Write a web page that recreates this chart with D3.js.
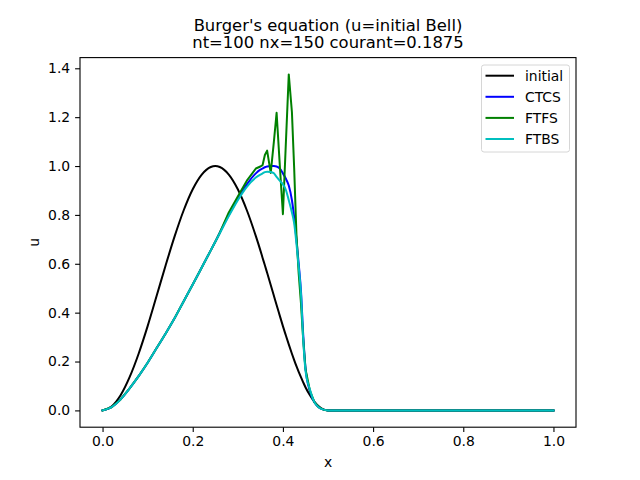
<!DOCTYPE html>
<html>
<head>
<meta charset="utf-8">
<script src="https://cdn.jsdelivr.net/npm/d3@7"></script>
<style>
  html, body { margin: 0; padding: 0; background: #fff; }
  svg { display: block; font-family: "DejaVu Sans", sans-serif; }
  .axis path, .axis line { stroke: #000; stroke-width: 1.1; }
  .axis text { font-size: 13.9px; fill: #000; font-family: "DejaVu Sans", sans-serif; }
</style>
</head>
<body>
<svg id="chart" width="640" height="480"></svg>
<script>
// grid of x positions
const xs = [0, 0.02, 0.04, 0.06, 0.08, 0.10, 0.12, 0.14, 0.16, 0.18,
  0.20, 0.22, 0.24, 0.25, 0.26, 0.28, 0.30, 0.32, 0.34, 0.35,
  0.355, 0.36, 0.365, 0.373, 0.38, 0.386, 0.393, 0.40, 0.406, 0.413,
  0.42, 0.425, 0.43, 0.435, 0.44, 0.445, 0.45, 0.46, 0.47, 0.48,
  0.49, 0.50, 0.60, 0.70, 0.80, 0.90, 1.00];

const initial = [0, 0.016, 0.062, 0.136, 0.232, 0.345, 0.469, 0.594, 0.713, 0.819,
  0.905, 0.965, 0.996, 1.0, 0.996, 0.965, 0.905, 0.819, 0.713, 0.655,
  0.624, 0.594, 0.563, 0.513, 0.469, 0.431, 0.388, 0.345, 0.310, 0.270,
  0.232, 0.206, 0.181, 0.158, 0.136, 0.115, 0.095, 0.062, 0.035, 0.016,
  0.004, 0, 0, 0, 0, 0, 0];

const ctcs = [0, 0.013, 0.045, 0.09, 0.14, 0.195, 0.255, 0.315, 0.378, 0.447,
  0.515, 0.585, 0.655, 0.69, 0.727, 0.80, 0.865, 0.925, 0.97, 0.985,
  0.99, 0.995, 0.998, 1.0, 1.0, 0.998, 0.99, 0.97, 0.95, 0.92,
  0.86, 0.79, 0.70, 0.60, 0.49, 0.31, 0.175, 0.078, 0.033, 0.012,
  0.003, 0, 0, 0, 0, 0, 0];

const ftfs = [0, 0.013, 0.045, 0.09, 0.14, 0.195, 0.255, 0.315, 0.378, 0.447,
  0.515, 0.585, 0.655, 0.69, 0.727, 0.81, 0.875, 0.94, 0.99, 0.998,
  1.004, 1.045, 1.063, 0.972, 1.10, 1.218, 1.006, 0.803, 1.07, 1.375,
  1.22, 0.99, 0.72, 0.56, 0.44, 0.29, 0.17, 0.08, 0.033, 0.012,
  0.003, 0, 0, 0, 0, 0, 0];

const ftbs = [0, 0.013, 0.045, 0.09, 0.14, 0.195, 0.255, 0.315, 0.378, 0.447,
  0.515, 0.585, 0.655, 0.69, 0.725, 0.795, 0.86, 0.915, 0.953, 0.965,
  0.97, 0.975, 0.977, 0.976, 0.97, 0.956, 0.94, 0.925, 0.905, 0.86,
  0.81, 0.765, 0.683, 0.587, 0.48, 0.29, 0.165, 0.085, 0.033, 0.012,
  0.003, 0, 0, 0, 0, 0, 0];

const seriesNames = ["initial", "CTCS", "FTFS", "FTBS"];
const seriesColors = ["#000000", "#0000ff", "#008000", "#00bfbf"];
const seriesValues = [initial, ctcs, ftfs, ftbs];

const xTicks = [0.0, 0.2, 0.4, 0.6, 0.8, 1.0];
const yTicks = [0.0, 0.2, 0.4, 0.6, 0.8, 1.0, 1.2, 1.4];

const titleLines = ["Burger's equation (u=initial Bell)", "nt=100 nx=150 courant=0.1875"];

const svg = d3.select("#chart");
const plotLeft = 80, plotRight = 576, plotTop = 57.6, plotBottom = 427.2;

const x = d3.scaleLinear().domain([-0.05, 1.05]).range([plotLeft, plotRight]);
const y = d3.scaleLinear().domain([-0.06875, 1.44375]).range([plotBottom, plotTop]);

// lines (FTFS drawn straight so its spikes stay sharp)
seriesValues.forEach((vals, i) => {
  const line = d3.line()
    .x((d, j) => x(xs[j]))
    .y(d => y(d))
    .curve(seriesNames[i] === "FTFS" ? d3.curveLinear : d3.curveMonotoneX);
  svg.append("path")
    .datum(vals)
    .attr("fill", "none")
    .attr("stroke", seriesColors[i])
    .attr("stroke-width", 2)
    .attr("stroke-linejoin", "round")
    .attr("stroke-linecap", "square")
    .attr("d", line);
});

// axes
svg.append("g")
  .attr("class", "axis")
  .attr("transform", `translate(0,${plotBottom})`)
  .call(d3.axisBottom(x).tickValues(xTicks).tickFormat(d3.format(".1f")).tickSize(4.9).tickPadding(3.6).tickSizeOuter(0))
  .call(g => g.select(".domain").remove());

svg.append("g")
  .attr("class", "axis")
  .attr("transform", `translate(${plotLeft},0)`)
  .call(d3.axisLeft(y).tickValues(yTicks).tickFormat(d3.format(".1f")).tickSize(4.9).tickPadding(4.9).tickSizeOuter(0))
  .call(g => g.select(".domain").remove());

// frame
svg.append("rect")
  .attr("x", plotLeft).attr("y", plotTop)
  .attr("width", plotRight - plotLeft).attr("height", plotBottom - plotTop)
  .attr("fill", "none").attr("stroke", "#000").attr("stroke-width", 1.1);

// labels
svg.append("text")
  .attr("x", (plotLeft + plotRight) / 2).attr("y", 467)
  .attr("text-anchor", "middle").attr("font-size", "13.9px")
  .text("x");

svg.append("text")
  .attr("transform", `translate(38.5,${(plotTop + plotBottom) / 2}) rotate(-90)`)
  .attr("text-anchor", "middle").attr("font-size", "13.9px")
  .text("u");

titleLines.forEach((t, i) => {
  svg.append("text")
    .attr("x", (plotLeft + plotRight) / 2).attr("y", 30.5 + i * 17.5)
    .attr("text-anchor", "middle").attr("font-size", "16.4px")
    .text(t);
});

// legend
const legend = svg.append("g").attr("transform", "translate(481.5,65)");
legend.append("rect")
  .attr("width", 88).attr("height", 87)
  .attr("rx", 2.5)
  .attr("fill", "#fff").attr("fill-opacity", 0.8)
  .attr("stroke", "#d6d6d6").attr("stroke-width", 1);

seriesNames.forEach((name, i) => {
  const row = legend.append("g").attr("transform", `translate(0,${10.7 + i * 21.1})`);
  row.append("line")
    .attr("x1", 4).attr("x2", 32.5)
    .attr("stroke", seriesColors[i]).attr("stroke-width", 2);
  row.append("text")
    .attr("x", 43.5).attr("y", 5)
    .attr("font-size", "13.9px")
    .text(name);
});
</script>
</body>
</html>
